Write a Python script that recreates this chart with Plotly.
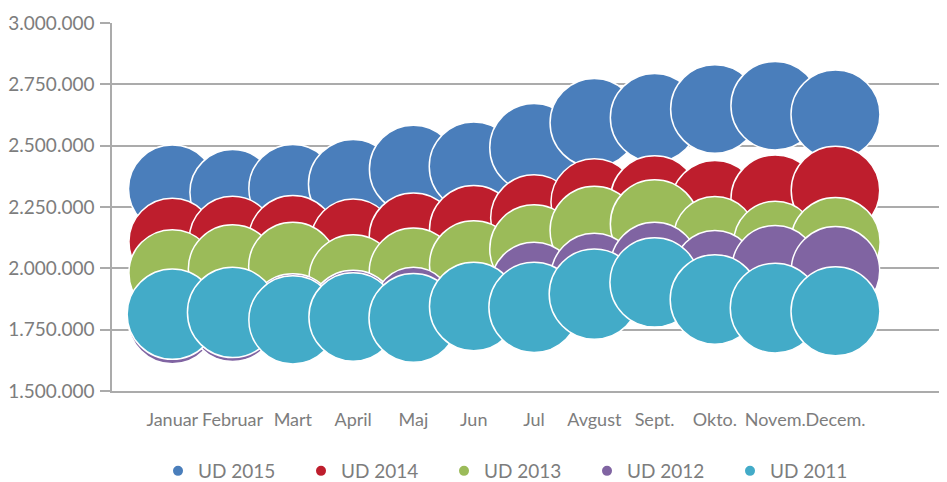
import plotly.graph_objects as go

months = ["Januar", "Februar", "Mart", "April", "Maj", "Jun", "Jul",
          "Avgust", "Sept.", "Okto.", "Novem.", "Decem."]

ud2015 = [2324000, 2310000, 2325000, 2343000, 2404000, 2415000, 2492000,
          2593000, 2614000, 2649000, 2663000, 2627000]
ud2014 = [2109000, 2117000, 2116000, 2111000, 2127000, 2157000, 2205000,
          2270000, 2279000, 2259000, 2282000, 2317000]
ud2013 = [1981000, 1997000, 2007000, 1957000, 1984000, 2014000, 2079000,
          2154000, 2181000, 2125000, 2104000, 2107000]
ud2012 = [1791000, 1801000, 1798000, 1810000, 1844000, 1845000, 1930000,
          1966000, 2007000, 1986000, 1998000, 1990000]
ud2011 = [1813000, 1820000, 1790000, 1802000, 1798000, 1844000, 1841000,
          1895000, 1943000, 1873000, 1838000, 1825000]

# relative bubble sizes (third dimension)
size2015 = [98, 93, 99, 102, 99, 101, 100, 100, 100, 100, 100, 101]
size2014 = [96, 96, 100, 91, 100, 100, 96, 96, 100, 100, 100, 100]
size2013 = [96, 100, 100, 100, 100, 100, 100, 100, 100, 87, 88, 102]
size2012 = [100, 100, 100, 102, 79, 96, 96, 96, 100, 87, 96, 100]
size2011 = [104, 104, 99, 100, 101, 100, 104, 104, 102, 102, 103, 101]

series = [
    ("UD 2015", ud2015, size2015, "#4A7EBB"),
    ("UD 2014", ud2014, size2014, "#BE1E2D"),
    ("UD 2013", ud2013, size2013, "#9BBB59"),
    ("UD 2012", ud2012, size2012, "#8064A2"),
    ("UD 2011", ud2011, size2011, "#43ABC8"),
]

x_pos = list(range(1, len(months) + 1))
D100 = 88.5
sizeref = 2 * 100 / D100 ** 2

FONT = "Lato, 'Open Sans', sans-serif"
GRAY_TXT = "#7d7d7d"
GRID = "#ababab"

fig = go.Figure()
for name, vals, sizes, color in series:
    fig.add_trace(go.Scatter(
        x=x_pos, y=vals, mode="markers", name=name,
        marker=dict(size=sizes, sizemode="area", sizeref=sizeref,
                    color=color, opacity=1,
                    line=dict(color="white", width=1.5)),
    ))

# page body has an 8px default margin, so the figure is 8px smaller
fig.update_layout(
    width=939, height=474,
    margin=dict(l=104, r=0, t=15, b=91, autoexpand=False),
    paper_bgcolor="white", plot_bgcolor="white",
    separators=",.",
    font=dict(family=FONT, size=19, color=GRAY_TXT),
    showlegend=True,
    legend=dict(orientation="h", x=0.0551, xanchor="left",
                y=-0.2174, yanchor="middle",
                itemsizing="constant", entrywidth=98,
                entrywidthmode="pixels",
                font=dict(family=FONT, size=19, color=GRAY_TXT),
                bgcolor="rgba(0,0,0,0)"),
)
fig.update_xaxes(
    range=[0, 13.85], tickmode="array", tickvals=x_pos, ticktext=months,
    showgrid=False, zeroline=False, showline=True, linecolor=GRID,
    linewidth=1.5, ticks="", ticklabelstandoff=12, tickangle=0,
    tickfont=dict(family=FONT, size=18, color=GRAY_TXT),
)
fig.update_yaxes(
    range=[1500000, 3000000], dtick=250000, tick0=1500000,
    tickformat=",d", showgrid=True, gridcolor=GRID, gridwidth=1.5,
    zeroline=False, showline=True, linecolor=GRID, linewidth=1.5,
    ticks="outside", ticklen=10, tickcolor=GRID, tickwidth=1.5,
    ticklabelstandoff=2,
    tickfont=dict(family=FONT, size=19, color=GRAY_TXT),
)

fig.write_html("out.html")
